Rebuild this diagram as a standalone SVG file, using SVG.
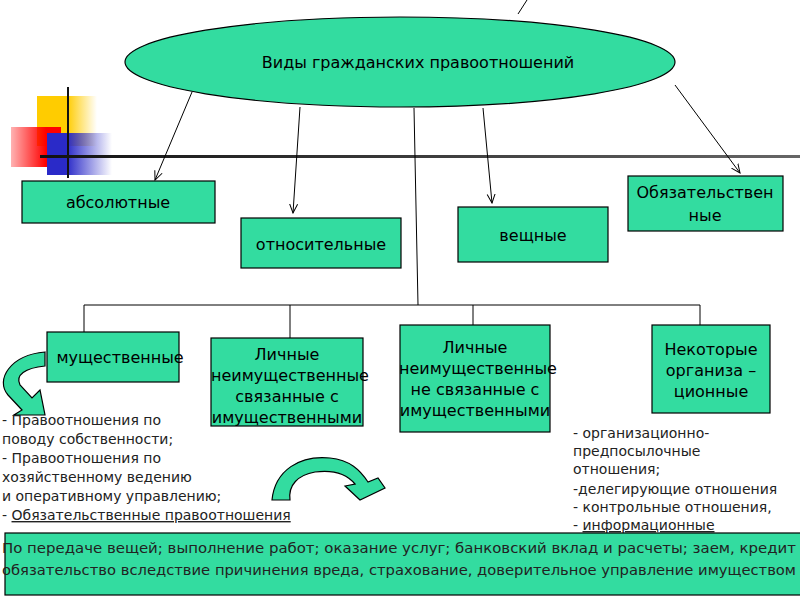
<svg xmlns="http://www.w3.org/2000/svg" width="800" height="600" viewBox="0 0 800 600">
<defs>
<style>
.b{fill:#33dca0;stroke:#000;stroke-width:1.2}
.t{font-family:"DejaVu Sans",sans-serif;font-size:16px;fill:#000;text-anchor:middle}
.s{font-family:"DejaVu Sans",sans-serif;font-size:14px;fill:#222}
.l{stroke:#000;stroke-width:1;fill:none}
</style>
<marker id="a" markerWidth="10" markerHeight="10" refX="9" refY="5" orient="auto" markerUnits="userSpaceOnUse"><path d="M0,1 L9,5 L0,9" fill="none" stroke="#000"/></marker>
<linearGradient id="gy" x1="0" x2="1"><stop offset="0.5" stop-color="#ffcc00"/><stop offset="1" stop-color="#ffcc00" stop-opacity="0"/></linearGradient>
<linearGradient id="gr" x1="1" x2="0"><stop offset="0.3" stop-color="#ff0000"/><stop offset="1" stop-color="#ff0000" stop-opacity="0.3"/></linearGradient>
<linearGradient id="gb" x1="0" x2="1"><stop offset="0.3" stop-color="#2a2ac8"/><stop offset="1" stop-color="#2a2ac8" stop-opacity="0"/></linearGradient>
<linearGradient id="gl" x1="0" x2="1"><stop offset="0" stop-color="#111"/><stop offset="1" stop-color="#666"/></linearGradient>
</defs>
<rect width="800" height="600" fill="#fff"/>
<g id="deco">
<rect x="37" y="96" width="60" height="50" fill="url(#gy)"/>
<rect x="11" y="127" width="50" height="40" fill="url(#gr)"/>
<rect x="47" y="133" width="65" height="42" fill="url(#gb)"/>
<line x1="68" y1="87" x2="68" y2="178" stroke="#111" stroke-width="2"/>
<rect x="40" y="155" width="760" height="3" fill="url(#gl)"/>
<line x1="518" y1="14" x2="527" y2="0" stroke="#000"/>
</g>
<g id="connectors">
<line class="l" x1="192" y1="92" x2="155" y2="180" marker-end="url(#a)"/>
<line class="l" x1="300" y1="107" x2="293" y2="213" marker-end="url(#a)"/>
<line class="l" x1="483" y1="108" x2="492" y2="203" marker-end="url(#a)"/>
<line class="l" x1="675" y1="85" x2="740" y2="173" marker-end="url(#a)"/>
<line class="l" x1="414" y1="108" x2="418" y2="305"/>
<polyline class="l" points="84,332 84,305 700,305 700,325"/>
<line class="l" x1="290" y1="305" x2="290" y2="338"/>
<line class="l" x1="473" y1="305" x2="473" y2="325"/>
<path d="M45,352 C10,355 -5,380 8,395 L22,410 L14,415 L45,415 L40,390 L32,398 L20,385 C15,375 25,368 45,366 Z" class="b" stroke-width="0.8"/>
<path d="M272,500 C275,470 300,455 330,458 C350,460 360,470 368,482 L378,478 L385,488 L360,500 L345,486 L355,484 C345,472 330,470 315,472 C298,475 288,485 290,500 Z" class="b" stroke-width="0.8"/>
</g>
<g id="root"><ellipse class="b" cx="400" cy="62" rx="275" ry="45"/><text class="t" x="418" y="68">Виды гражданских правоотношений</text></g>
<g id="n1"><rect class="b" x="22" y="181" width="193" height="42"/><text class="t" x="118" y="208">абсолютные</text></g>
<g id="n2"><rect class="b" x="241" y="218" width="160" height="50"/><text class="t" x="321" y="250">относительные</text></g>
<g id="n3"><rect class="b" x="458" y="207" width="150" height="55"/><text class="t" x="533" y="241">вещные</text></g>
<g id="n4"><rect class="b" x="628" y="176" width="155" height="55"/><text class="t" x="705" y="198">Обязательствен</text><text class="t" x="705" y="221">ные</text></g>
<g id="n5"><rect class="b" x="47" y="332" width="132" height="50"/><text class="t" x="120" y="363">мущественные</text></g>
<g id="n6"><rect class="b" x="211" y="338" width="152" height="88"/><text class="t" x="287" y="360">Личные</text><text class="t" x="290" y="381">неимущественные</text><text class="t" x="287" y="402">связанные с</text><text class="t" x="287" y="423">имущественными</text></g>
<g id="n7"><rect class="b" x="400" y="325" width="150" height="107"/><text class="t" x="475" y="353">Личные</text><text class="t" x="478" y="374">неимущественные</text><text class="t" x="475" y="395">не связанные с</text><text class="t" x="475" y="416">имущественными</text></g>
<g id="n8"><rect class="b" x="652" y="325" width="118" height="88"/><text class="t" x="711" y="355">Некоторые</text><text class="t" x="711" y="376">организа –</text><text class="t" x="711" y="397">ционные</text></g>
<g id="texts">
<text class="s" x="2" y="425">- Правоотношения по</text>
<text class="s" x="2" y="444">поводу собственности;</text>
<text class="s" x="2" y="463">-   Правоотношения по</text>
<text class="s" x="2" y="482">хозяйственному ведению</text>
<text class="s" x="2" y="501">и оперативному управлению;</text>
<text class="s" x="2" y="520">-   <tspan text-decoration="underline">Обязательственные правоотношения</tspan></text>
<text class="s" x="573" y="438">-   организационно-</text>
<text class="s" x="573" y="456">предпосылочные</text>
<text class="s" x="573" y="474">отношения;</text>
<text class="s" x="573" y="494">-делегирующие отношения</text>
<text class="s" x="573" y="512">-   контрольные отношения,</text>
<text class="s" x="573" y="530">-   <tspan text-decoration="underline">информационные</tspan></text>
</g>
<g id="bottom"><rect class="b" x="5" y="533" width="800" height="62"/>
<text class="s" x="2" y="553" textLength="794" lengthAdjust="spacingAndGlyphs">По передаче вещей; выполнение работ; оказание услуг; банковский вклад и расчеты; заем, кредит</text>
<text class="s" x="2" y="575" textLength="794" lengthAdjust="spacingAndGlyphs">обязательство вследствие причинения вреда, страхование, доверительное управление имуществом</text></g>
</svg>
